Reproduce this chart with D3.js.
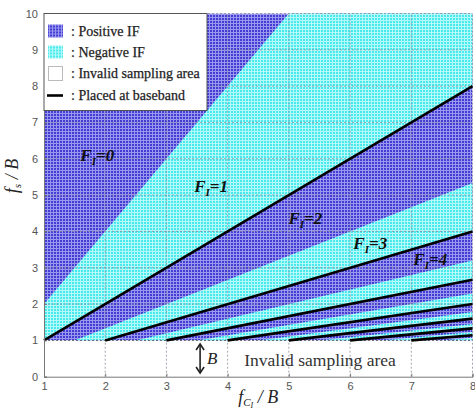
<!DOCTYPE html>
<html lang="en">
<head>
<meta charset="UTF-8">
<title>IF sampling map</title>
<script src="https://d3js.org/d3.v7.min.js"></script>
<style>
  body { margin: 0; background: #fff; }
  svg { display: block; }
  .tick text { font-family: "Liberation Sans", Arial, sans-serif; font-size: 11px; fill: #555; }
  .serif { font-family: "Liberation Serif", "Times New Roman", serif; }
</style>
</head>
<body>
<div id="chart"></div>
<script>
// axis ticks
const xTicks = [1, 2, 3, 4, 5, 6, 7, 8];
const yTicks = [0, 1, 2, 3, 4, 5, 6, 7, 8, 9, 10];

// "placed at baseband" lines: start at (x, 1), end at (8, y)
const baseStartX = [1, 2, 3, 4, 5, 6, 7];
const baseEndY   = [8, 4, 2.67, 2, 1.6, 1.33, 1.14];

// upper edges of the negative-IF bands: from (x, 1) to (8, y)
const negTopStartX = [0.5, 1.5, 2.5, 3.5, 4.5, 5.5, 6.5, 7.5];
const negTopEndY   = [16, 5.33, 3.2, 2.29, 1.78, 1.45, 1.23, 1.07];
// lower edges of the negative-IF bands
const negBotStartX = [1, 2, 3, 4, 5, 6, 7, 8];
const negBotEndY   = [8, 4, 2.67, 2, 1.6, 1.33, 1.14, 1];

// region labels
const fiLabels = ["0", "1", "2", "3", "4"];
const fiX = [1.87, 3.73, 5.27, 6.33, 7.31];
const fiY = [6.1, 5.25, 4.37, 3.68, 3.24];

const legendItems = [": Positive IF", ": Negative IF", ": Invalid sampling area", ": Placed at baseband"];

const width = 475, height = 409;
const margin = { top: 13.5, right: 2.5, bottom: 32.3, left: 44 };

const svg = d3.select("#chart").append("svg")
    .attr("width", width)
    .attr("height", height);

const x = d3.scaleLinear().domain([1, 8]).range([margin.left, width - margin.right]);
const y = d3.scaleLinear().domain([0, 10]).range([height - margin.bottom, margin.top]);

const defs = svg.append("defs");

function hatch(id, base, line) {
    const p = defs.append("pattern")
        .attr("id", id)
        .attr("patternUnits", "userSpaceOnUse")
        .attr("width", 3).attr("height", 3);
    p.append("rect").attr("width", 3).attr("height", 3).attr("fill", base);
    p.append("rect").attr("x", 2).attr("width", 1).attr("height", 3).attr("fill", line);
    p.append("rect").attr("y", 2).attr("width", 3).attr("height", 1).attr("fill", line);
}
hatch("posHatch", "#433dd4", "#9a97ee");
hatch("negHatch", "#48eaee", "#b4f8f8");

defs.append("clipPath").attr("id", "plotClip")
  .append("rect")
    .attr("x", x(1)).attr("y", y(10))
    .attr("width", x(8) - x(1)).attr("height", y(1) - y(10));

const plot = svg.append("g").attr("clip-path", "url(#plotClip)");

// positive IF everywhere in the valid area
plot.append("rect")
    .attr("x", x(1)).attr("y", y(10))
    .attr("width", x(8) - x(1)).attr("height", y(1) - y(10))
    .attr("fill", "url(#posHatch)");

// negative IF bands
const bands = negTopStartX.map((v, i) => [
    [v, 1], [8, negTopEndY[i]], [8, negBotEndY[i]], [negBotStartX[i], 1]
]);
plot.selectAll("path.neg")
    .data(bands)
    .join("path")
    .attr("class", "neg")
    .attr("d", d => "M" + d.map(p => [x(p[0]), y(p[1])]).join("L") + "Z")
    .attr("fill", "url(#negHatch)");

// dashed grid
const grid = svg.append("g")
    .attr("stroke-dasharray", "2,2")
    .attr("stroke-width", 1);
grid.selectAll("line.v")
    .data(xTicks.slice(1))
    .join("line")
    .attr("x1", d => x(d)).attr("x2", d => x(d))
    .attr("y1", y(0)).attr("y2", y(10))
    .attr("stroke", "#8c8c9c")
    .attr("stroke-opacity", 0.8);
grid.selectAll("line.h")
    .data(yTicks.slice(1))
    .join("line")
    .attr("x1", x(1)).attr("x2", x(8))
    .attr("y1", d => y(d)).attr("y2", d => y(d))
    .attr("stroke", d => d === 1 ? "#444" : "#8c8c9c")
    .attr("stroke-opacity", 0.8);

// baseband lines
svg.append("g").selectAll("line")
    .data(baseStartX)
    .join("line")
    .attr("x1", d => x(d)).attr("y1", y(1))
    .attr("x2", x(8)).attr("y2", (d, i) => y(baseEndY[i]))
    .attr("stroke", "#000")
    .attr("stroke-width", 2.6);

// axes
svg.append("g")
    .attr("transform", `translate(0,${y(0)})`)
    .call(d3.axisBottom(x).tickValues(xTicks).tickSize(-3).tickPadding(6).tickFormat(d3.format("d")))
    .call(g => g.select(".domain").attr("stroke", "#777"))
    .call(g => g.selectAll(".tick line").attr("stroke", "#777"));

svg.append("g")
    .attr("transform", `translate(${x(1)},0)`)
    .call(d3.axisLeft(y).tickValues(yTicks).tickSize(-3).tickPadding(6).tickFormat(d3.format("d")))
    .call(g => g.select(".domain").attr("stroke", "#777"))
    .call(g => g.selectAll(".tick line").attr("stroke", "#777"));

// region labels
const fi = svg.append("g").attr("class", "serif")
    .attr("font-style", "italic")
    .attr("font-weight", "bold")
    .attr("font-size", 17)
    .attr("fill", "#111");
fiLabels.forEach((lab, i) => {
    const t = fi.append("text")
        .attr("x", x(fiX[i])).attr("y", y(fiY[i]))
        .attr("text-anchor", "middle")
        .attr("dy", "0.35em");
    t.append("tspan").text("F");
    t.append("tspan").attr("font-size", 11).attr("dy", 4).text("I");
    t.append("tspan").attr("dy", -4).text("=" + lab);
});

// invalid area annotation
svg.append("text").attr("class", "serif")
    .attr("x", x(5.51)).attr("y", y(0.45))
    .attr("text-anchor", "middle")
    .attr("dy", "0.35em")
    .attr("font-size", 17.5)
    .attr("fill", "#333")
    .text("Invalid sampling area");

const ax = x(3.55);
svg.append("line")
    .attr("x1", ax).attr("x2", ax)
    .attr("y1", y(0.9)).attr("y2", y(0.1))
    .attr("stroke", "#222").attr("stroke-width", 1.6);
svg.append("path")
    .attr("d", `M${ax - 4},${y(0.9) + 6}L${ax},${y(0.9)}L${ax + 4},${y(0.9) + 6}M${ax - 4},${y(0.1) - 6}L${ax},${y(0.1)}L${ax + 4},${y(0.1) - 6}`)
    .attr("fill", "none").attr("stroke", "#222").attr("stroke-width", 1.6);
svg.append("text").attr("class", "serif")
    .attr("x", ax + 7).attr("y", y(0.5))
    .attr("dy", "0.35em")
    .attr("font-style", "italic")
    .attr("font-size", 17)
    .attr("fill", "#222")
    .text("B");

// axis titles
const xt = svg.append("text").attr("class", "serif")
    .attr("x", (x(1) + x(8)) / 2).attr("y", 403)
    .attr("text-anchor", "middle")
    .attr("font-style", "italic")
    .attr("font-size", 18)
    .attr("fill", "#222");
xt.append("tspan").text("f");
xt.append("tspan").attr("font-size", 11).attr("dy", 3).text("C");
xt.append("tspan").attr("font-size", 8).attr("dy", 2).text("I");
xt.append("tspan").attr("dy", -5).text(" / B");

const yt = svg.append("text").attr("class", "serif")
    .attr("transform", "translate(18,176) rotate(-90)")
    .attr("text-anchor", "middle")
    .attr("font-style", "italic")
    .attr("font-size", 18)
    .attr("fill", "#222");
yt.append("tspan").text("f");
yt.append("tspan").attr("font-size", 11).attr("dy", 3).text("s");
yt.append("tspan").attr("dy", -3).text(" / B");

// legend
const lg = svg.append("g").attr("transform", "translate(44,13.5)");
lg.append("rect")
    .attr("width", 163).attr("height", 97)
    .attr("fill", "#fff").attr("stroke", "#555").attr("stroke-width", 1);
const rowY = [18, 39, 60, 82];
lg.append("rect").attr("x", 4).attr("y", rowY[0] - 7).attr("width", 15).attr("height", 13).attr("fill", "url(#posHatch)");
lg.append("rect").attr("x", 4).attr("y", rowY[1] - 7).attr("width", 15).attr("height", 13).attr("fill", "url(#negHatch)");
lg.append("rect").attr("x", 4.5).attr("y", rowY[2] - 7).attr("width", 14).attr("height", 14).attr("fill", "#fff").attr("stroke", "#bbb");
lg.append("line").attr("x1", 3).attr("x2", 19).attr("y1", rowY[3]).attr("y2", rowY[3]).attr("stroke", "#000").attr("stroke-width", 2.6);
lg.selectAll("text.item")
    .data(legendItems)
    .join("text")
    .attr("class", "item serif")
    .attr("x", 27).attr("y", (d, i) => rowY[i])
    .attr("dy", "0.35em")
    .attr("font-size", 14)
    .attr("fill", "#222")
    .attr("stroke", "#222")
    .attr("stroke-width", 0.25)
    .text(d => d);
</script>
</body>
</html>
